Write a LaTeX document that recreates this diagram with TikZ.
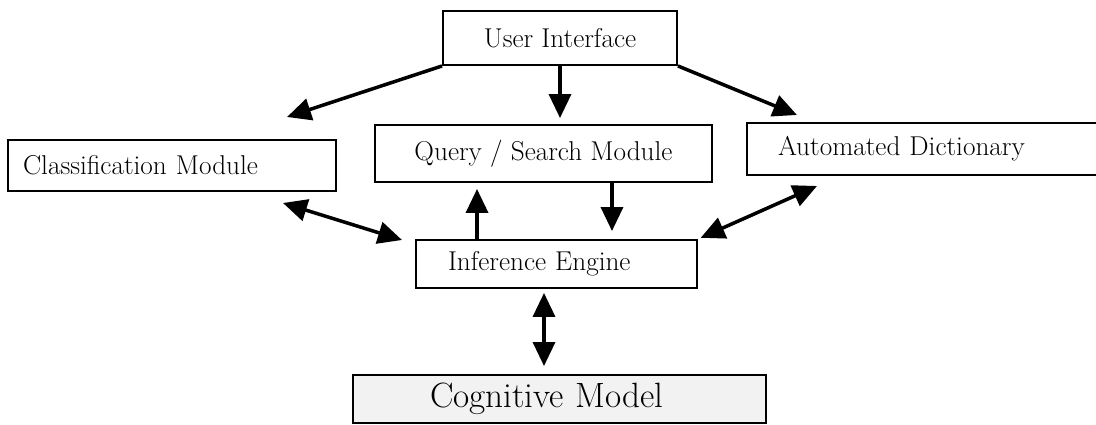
\documentclass[tikz,border=0pt]{standalone}
\usepackage{tikz}
\usetikzlibrary{arrows.meta, positioning, calc}

\begin{document}
\begin{tikzpicture}[
		x=0.02cm, y=-0.02cm,
		box/.style={draw, line width=1.1pt, align=center, font=\fontsize{15.5}{18}\selectfont, inner sep=0pt},
		lbox/.style={box, align=left},
		model/.style={lbox, fill=gray!10, font=\fontsize{20}{23}\selectfont},
		arr/.style={-{Triangle[length=4.8mm, width=4.4mm]}, line width=2pt},
		both/.style={{Triangle[length=4.8mm, width=4.4mm]}-{Triangle[length=4.8mm, width=4.4mm]}, line width=2pt}
	]
		\useasboundingbox (0,0) rectangle (1096,425);

		\node[box, minimum width=4.68cm, minimum height=1.08cm] (ui) at (560,38) {User Interface};
		\node[lbox, minimum height=1.02cm, text width=5.96cm, inner xsep=0.3cm] (cls) at (172,165.5) {Classification Module};
		\node[box, minimum width=6.74cm, minimum height=1.14cm] (qs) at (543.5,153.5) {Query / Search Module};
		\node[lbox, minimum height=1.04cm, text width=5.82cm, inner xsep=0.62cm] (dict) at (923.5,149) {Automated Dictionary};
		\node[lbox, minimum height=0.96cm, text width=4.34cm, inner xsep=0.64cm] (ie) at (556.5,264) {Inference Engine};
		\node[model, minimum height=0.96cm, text width=5.18cm, inner xsep=1.54cm] (cog) at (559.5,399) {Cognitive Model};

		% free ends of the slanted arrows
		\coordinate (clsin) at (287,117);
		\coordinate (dictin) at (797,115);
		\coordinate (clsout) at (283,203);
		\coordinate (iein) at (402,240);
		\coordinate (dictout) at (817,186);

		\draw[arr] (ui.south west) -- (clsin);
		\draw[arr, shorten >=0.12cm] (ui.south) -- (ui.south |- qs.north);
		\draw[arr] (ui.south east) -- (dictin);
		\draw[both] (clsout) -- (iein);
		\draw[arr, shorten >=0.12cm] ([xshift=-1.59cm]ie.north) -- ([xshift=-1.59cm]ie.north |- qs.south);
		\draw[arr, shorten >=0.16cm] ([xshift=1.37cm]qs.south) -- ([xshift=1.37cm]qs.south |- ie.north);
		\draw[both, shorten <=0.06cm] (ie.north east) -- (dictout);
		\draw[both, shorten <=0.08cm, shorten >=0.16cm] ([xshift=-0.25cm]ie.south) -- ([xshift=-0.25cm]ie.south |- cog.north);
	\end{tikzpicture}
\end{document}
